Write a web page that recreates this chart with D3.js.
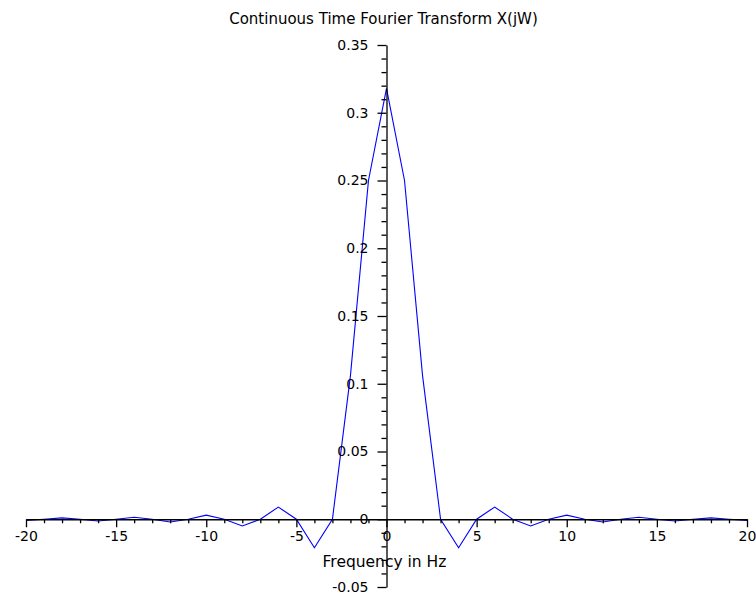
<!DOCTYPE html>
<html>
<head>
<meta charset="utf-8">
<script src="https://cdn.jsdelivr.net/npm/d3@7"></script>
<style>
  html, body { margin: 0; padding: 0; background: #fff; }
  svg { display: block; }
  text { font-family: "DejaVu Sans", sans-serif; fill: #000; }
</style>
</head>
<body>
<svg id="chart" width="756" height="599"></svg>
<script>
// Frequency samples (Hz)
const freq = [-20,-19,-18,-17,-16,-15,-14,-13,-12,-11,-10,-9,-8,-7,-6,-5,-4,-3,-2,-1,
              0,1,2,3,4,5,6,7,8,9,10,11,12,13,14,15,16,17,18,19,20];
// X(jW) values
const mag = [-0.0008,0,0.001,0,-0.0013,0,0.0015,0,-0.002,0,0.003,0,-0.005,0,0.009,0,-0.021,0,0.106,0.25,
             0.318,0.25,0.106,0,-0.021,0,0.009,0,-0.005,0,0.003,0,-0.002,0,0.0015,0,-0.0013,0,0.001,0,-0.0008];
const xTicks = [-20,-15,-10,-5,0,5,10,15,20];
const yTicks = [-0.05,0,0.05,0.1,0.15,0.2,0.25,0.3,0.35];
const titleText = "Continuous Time Fourier Transform X(jW)";
const xLabelText = "Frequency in Hz";

const svg = d3.select("#chart");
const x = d3.scaleLinear().domain([-20, 20]).range([26, 747]);
const y = d3.scaleLinear().domain([-0.05, 0.35]).range([587, 45]);

const xMinor = d3.range(-20, 21, 1).filter(v => v % 5 !== 0);
const yMinor = d3.range(-5, 36, 1).filter(v => v % 5 !== 0).map(v => v / 100);

// curve (drawn first so axes sit on top like the reference)
const pts = freq.map((f, i) => [f, mag[i]]);
svg.append("path")
  .datum(pts)
  .attr("fill", "none")
  .attr("stroke", "#0000ff")
  .attr("stroke-width", 1.1)
  .attr("d", d3.line().x(d => x(d[0])).y(d => y(d[1])));

// x axis at y=0
const gxMinor = svg.append("g").attr("transform", `translate(0,${y(0)})`)
  .call(d3.axisBottom(x).tickValues(xMinor).tickSize(4).tickSizeOuter(0).tickFormat(""));
gxMinor.select(".domain").remove();
const gx = svg.append("g").attr("transform", `translate(0,${y(0)})`)
  .call(d3.axisBottom(x).tickValues(xTicks).tickSize(8).tickSizeOuter(0).tickPadding(4)
    .tickFormat(d => String(d)));
gx.selectAll("text").style("font-size", "14px").style("font-family", "DejaVu Sans, sans-serif").attr("fill", "#000");

// y axis at x=0
const gyMinor = svg.append("g").attr("transform", `translate(${x(0)},0)`)
  .call(d3.axisLeft(y).tickValues(yMinor).tickSize(5).tickSizeOuter(0).tickFormat(""));
gyMinor.select(".domain").remove();
const gy = svg.append("g").attr("transform", `translate(${x(0)},0)`)
  .call(d3.axisLeft(y).tickValues(yTicks).tickSize(9).tickSizeOuter(0).tickPadding(9)
    .tickFormat(d => d === 0 ? "0" : String(+d.toFixed(2))));
gy.selectAll("text").style("font-size", "14px").style("font-family", "DejaVu Sans, sans-serif").attr("fill", "#000");

svg.selectAll(".domain, .tick line").attr("stroke", "#000").attr("stroke-width", 1.3);

// title & label
svg.append("text").attr("x", 383.5).attr("y", 24).attr("text-anchor", "middle")
  .style("font-size", "15px").text(titleText);
svg.append("text").attr("x", 384.5).attr("y", 567).attr("text-anchor", "middle")
  .style("font-size", "15.5px").text(xLabelText);
</script>
</body>
</html>
